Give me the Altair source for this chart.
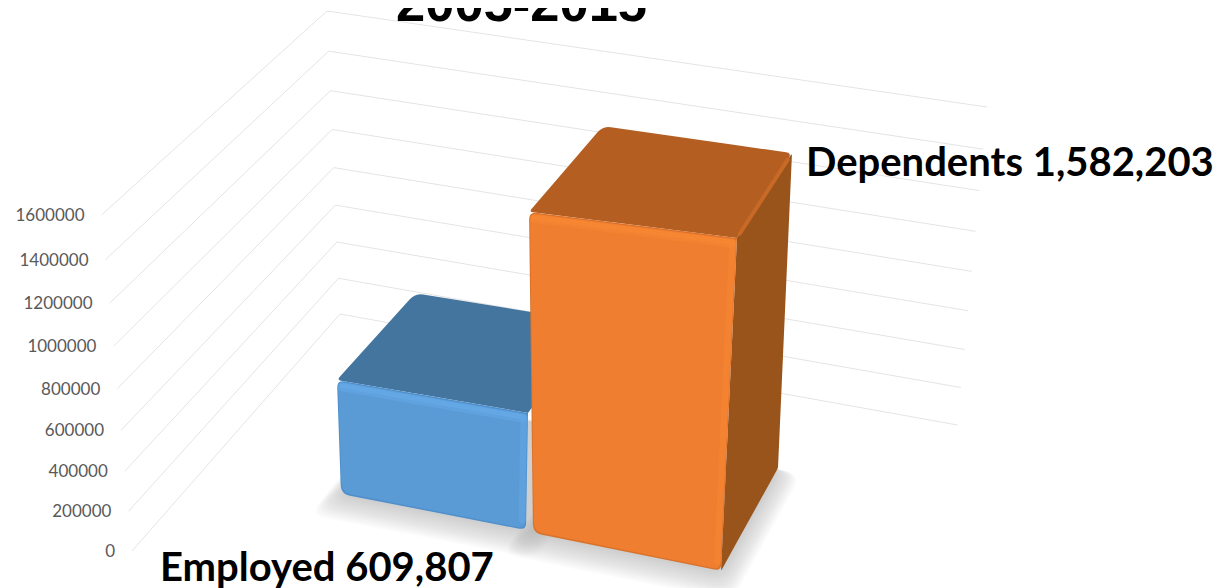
import altair as alt
import pandas as pd

# ---- chart values ----
CATEGORIES = ["Employed", "Dependents"]
VALUES = [609807, 1582203]
VALUE_LABELS = ["609,807", "1,582,203"]
TICKS = [0, 200000, 400000, 600000, 800000, 1000000, 1200000, 1400000, 1600000]
TITLE = "2005-2015"

# ---- 3D look: screen anchors of the walls and of each column's footprint ----
W, H = 1208, 580
WALL_FRONT = ((132, 551), (101.5, 215))
WALL_CORNER = ((340, 314), (327, 11))
WALL_RIGHT = ((957.5, 425), (987, 107))
PERSPECTIVE = 1.07
TICK_LABEL_GAP = 17
# corner order: front-left, front-right, back-right, back-left
FOOTPRINTS = {
    "Employed": [(341, 494), (526, 530), (592, 430), (417, 400)],
    "Dependents": [(533, 533), (721, 571), (778, 468), (608, 433)],
}
LIFT_PER_MILLION = {
    "Employed": [(-6.6, 187), (3.3, 192), (2, 177), (-3, 175)],
    "Dependents": [(-2.5, 203), (10.1, 210.5), (8.85, 199), (-3.2, 194)],
}
STYLE = {
    "Employed": dict(front="#5B9BD5", top="#44759F", side="#44759F",
                     hi="#65ABEA", edge="#4F8FCB"),
    "Dependents": dict(front="#EF7E30", top="#B45E22", side="#99541B",
                       hi="#F98A34", edge="#D9722B"),
}

xs = alt.Scale(domain=[8, 8 + W], nice=False, zero=False)
ys = alt.Scale(domain=[8, 8 + H], reverse=True, nice=False, zero=False)


def wall_point(anchor, v):
    t = v / TICKS[-1]
    s = t / (t + (1 - t) * PERSPECTIVE)
    (x0, y0), (x1, y1) = anchor
    return x0 + (x1 - x0) * s, y0 + (y1 - y0) * s


def rounded(points, radii, steps=5):
    out = []
    n = len(points)
    if not isinstance(radii, (list, tuple)):
        radii = [radii] * n
    for i in range(n):
        px, py = points[i - 1]
        cx, cy = points[i]
        nx, ny = points[(i + 1) % n]
        r = radii[i]
        if r == 0:
            out.append((cx, cy))
            continue
        d1 = ((px - cx) ** 2 + (py - cy) ** 2) ** 0.5
        d2 = ((nx - cx) ** 2 + (ny - cy) ** 2) ** 0.5
        a = (cx + (px - cx) * r / d1, cy + (py - cy) * r / d1)
        b = (cx + (nx - cx) * r / d2, cy + (ny - cy) * r / d2)
        for k in range(steps + 1):
            t = k / steps
            out.append(((1 - t) ** 2 * a[0] + 2 * t * (1 - t) * cx + t * t * b[0],
                        (1 - t) ** 2 * a[1] + 2 * t * (1 - t) * cy + t * t * b[1]))
    return out


def polygon(points, color, opacity=1.0):
    rows = []
    n = len(points)
    for x in sorted({round(p[0], 3) for p in points}):
        hit = []
        for i in range(n):
            x1, y1 = points[i]
            x2, y2 = points[(i + 1) % n]
            x1, x2 = round(x1, 3), round(x2, 3)
            if min(x1, x2) <= x <= max(x1, x2):
                if x1 == x2:
                    hit += [y1, y2]
                else:
                    hit.append(y1 + (y2 - y1) * (x - x1) / (x2 - x1))
        rows.append({"x": x, "y": min(hit), "y2": max(hit)})
    return alt.Chart(pd.DataFrame(rows)).mark_area(
        color=color, opacity=opacity, orient="vertical", interpolate="linear"
    ).encode(x=alt.X("x:Q", scale=xs, axis=None), y=alt.Y("y:Q", scale=ys, axis=None), y2="y2:Q")


def stroke(points, color, width, opacity=1.0):
    df = pd.DataFrame([{"x": p[0], "y": p[1], "i": i} for i, p in enumerate(points)])
    return alt.Chart(df).mark_line(
        color=color, strokeWidth=width, opacity=opacity, strokeCap="round"
    ).encode(x=alt.X("x:Q", scale=xs, axis=None), y=alt.Y("y:Q", scale=ys, axis=None), order="i:Q")


def label(text, x, y, size, font, weight="normal", color="#000000", align="left", baseline="alphabetic"):
    df = pd.DataFrame([{"x": x, "y": y, "t": text}])
    return alt.Chart(df).mark_text(
        font=font, fontSize=size, fontWeight=weight, color=color, align=align, baseline=baseline
    ).encode(x=alt.X("x:Q", scale=xs, axis=None), y=alt.Y("y:Q", scale=ys, axis=None), text="t:N")


def inset(a, b, d):
    L = ((b[0] - a[0]) ** 2 + (b[1] - a[1]) ** 2) ** 0.5
    return (a[0] + (b[0] - a[0]) * d / L, a[1] + (b[1] - a[1]) * d / L)


def shifted(p, dx, dy):
    return (p[0] + dx, p[1] + dy)


layers = []

# gridlines on the two walls, tick labels beside them
grid_rows = []
for tick in TICKS:
    for i, anchor in enumerate((WALL_FRONT, WALL_CORNER, WALL_RIGHT)):
        x, y = wall_point(anchor, tick)
        grid_rows.append({"tick": tick, "i": i, "x": x, "y": y})
layers.append(
    alt.Chart(pd.DataFrame(grid_rows)).mark_line(color="#E4E4E4", strokeWidth=1).encode(
        x=alt.X("x:Q", scale=xs, axis=None), y=alt.Y("y:Q", scale=ys, axis=None),
        detail="tick:N", order="i:Q")
)
for tick in TICKS:
    x, y = wall_point(WALL_FRONT, tick)
    layers.append(label(str(tick), x - TICK_LABEL_GAP, y + 1, 17, "Lato", color="#595959",
                        align="right", baseline="middle"))

# soft floor shadows
for cat in CATEGORIES:
    fp = FOOTPRINTS[cat]
    cx = sum(p[0] for p in fp) / 4
    cy = sum(p[1] for p in fp) / 4
    for k in range(14, 0, -1):
        f = 1 + 0.016 * k
        pts = [(cx + (p[0] - cx) * f - 0.2 * k, cy + (p[1] - cy) * f + 1.0 * k) for p in fp]
        layers.append(polygon(rounded(pts, 16), "#A2A5A7", 0.045))

# columns
for cat, value in zip(CATEGORIES, VALUES):
    base = FOOTPRINTS[cat]
    lift = LIFT_PER_MILLION[cat]
    tops = [(b[0] + l[0] * value / 1e6, b[1] - l[1] * value / 1e6) for b, l in zip(base, lift)]
    st = STYLE[cat]
    fl, fr, br, bl = tops
    # right side, top, front
    if cat == "Dependents":
        layers.append(polygon(rounded([fr, br, base[2], base[1]], [0, 3, 2, 2]), st["side"]))
    layers.append(polygon(rounded(tops, [4, 0, 6, 8]), st["top"]))
    layers.append(polygon(rounded([fl, fr, base[1], base[0]], [8, 0, 7, 9]), st["edge"]))
    layers.append(polygon(rounded([shifted(fl, 1, 1.5), shifted(fr, -1, 1.5),
                                   shifted(base[1], -1, -1.5), shifted(base[0], 1, -1.5)], [8, 3, 7, 9]),
                          st["front"]))
    # bevel highlights
    layers.append(stroke([shifted(inset(fl, fr, 5), 0, 6), shifted(inset(fr, fl, 5), 0, 6)], st["hi"], 9, 0.45))
    layers.append(stroke([shifted(inset(fl, fr, 5), 0, 5), shifted(inset(fr, fl, 5), 0, 5)], st["hi"], 5, 0.5))
    layers.append(stroke([shifted(inset(fr, base[1], 8), -4, 0), shifted(inset(base[1], fr, 10), -4, 0)],
                         st["hi"], 7, 0.4))
    if cat == "Dependents":
        layers.append(stroke([inset(fr, br, 5), inset(br, fr, 8)], "#C86A26", 4))

# texts
layers.append(label(TITLE, 396, 21, 52.5, "Liberation Sans", weight="bold"))
layers.append(label(f"{CATEGORIES[0]} {VALUE_LABELS[0]}", 160, 581, 40, "Lato", weight="bold"))
layers.append(label(f"{CATEGORIES[1]} {VALUE_LABELS[1]}", 806, 176, 40, "Lato", weight="bold"))

chart = alt.layer(*layers).properties(
    width=W, height=H, padding=0, autosize=alt.AutoSizeParams(type="none")
).configure_view(stroke=None)

chart.save("out.html", embed_options={"renderer": "svg", "actions": False})
